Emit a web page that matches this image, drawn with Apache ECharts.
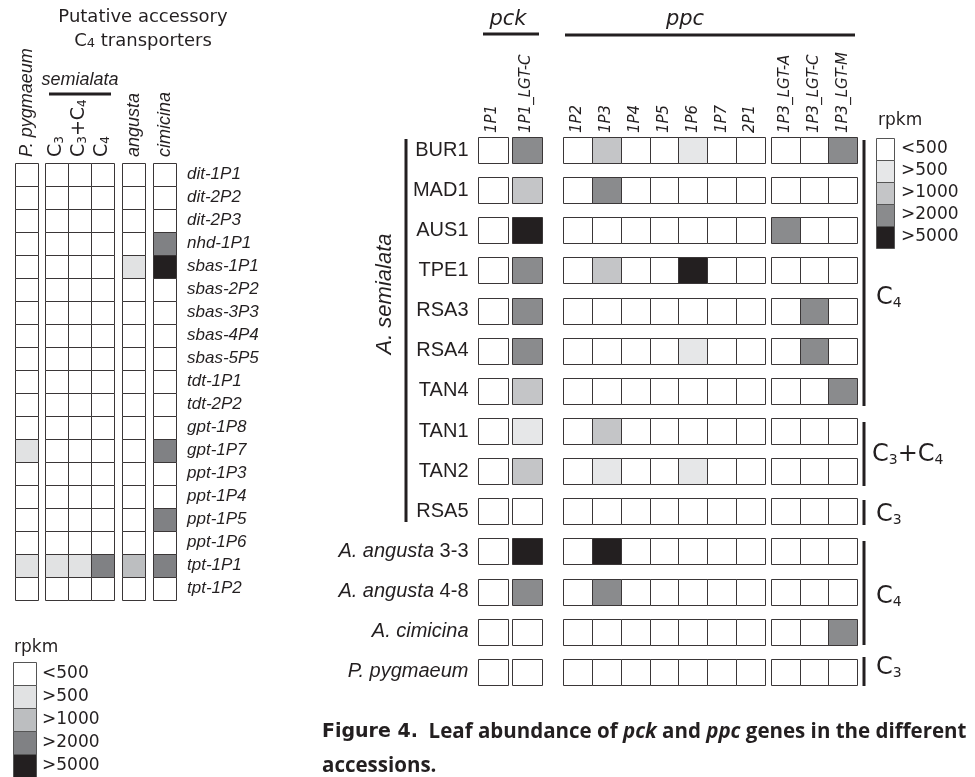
<!DOCTYPE html>
<html>
<head>
<meta charset="utf-8">
<script src="https://cdn.jsdelivr.net/npm/echarts@6/dist/echarts.min.js"></script>
<style>
  html, body { margin: 0; padding: 0; background: #fff; }
  #chart { width: 975px; height: 777px; }
</style>
</head>
<body>
<div id="chart"></div>
<script>
// levels: 0 <500, 1 >500, 2 >1000, 3 >2000, 4 >5000 (rpkm)
const leftGenes = ['dit-1P1', 'dit-2P2', 'dit-2P3', 'nhd-1P1', 'sbas-1P1', 'sbas-2P2', 'sbas-3P3',
  'sbas-4P4', 'sbas-5P5', 'tdt-1P1', 'tdt-2P2', 'gpt-1P8', 'gpt-1P7', 'ppt-1P3', 'ppt-1P4',
  'ppt-1P5', 'ppt-1P6', 'tpt-1P1', 'tpt-1P2'];
const leftCols = ['P. pygmaeum', 'C3', 'C3+C4', 'C4', 'angusta', 'cimicina'];
const leftValues = [
  [0, 0, 0, 0, 0, 0],
  [0, 0, 0, 0, 0, 0],
  [0, 0, 0, 0, 0, 0],
  [0, 0, 0, 0, 0, 3],
  [0, 0, 0, 0, 1, 4],
  [0, 0, 0, 0, 0, 0],
  [0, 0, 0, 0, 0, 0],
  [0, 0, 0, 0, 0, 0],
  [0, 0, 0, 0, 0, 0],
  [0, 0, 0, 0, 0, 0],
  [0, 0, 0, 0, 0, 0],
  [0, 0, 0, 0, 0, 0],
  [1, 0, 0, 0, 0, 3],
  [0, 0, 0, 0, 0, 0],
  [0, 0, 0, 0, 0, 0],
  [0, 0, 0, 0, 0, 3],
  [0, 0, 0, 0, 0, 0],
  [1, 1, 1, 3, 2, 3],
  [0, 0, 0, 0, 0, 0]
];

const rightRows = ['BUR1', 'MAD1', 'AUS1', 'TPE1', 'RSA3', 'RSA4', 'TAN4', 'TAN1', 'TAN2', 'RSA5',
  'A. angusta 3-3', 'A. angusta 4-8', 'A. cimicina', 'P. pygmaeum'];
const rightCols = ['1P1', '1P1_LGT-C', '1P2', '1P3', '1P4', '1P5', '1P6', '1P7', '2P1',
  '1P3_LGT-A', '1P3_LGT-C', '1P3_LGT-M'];
const rightValues = [
  [0, 3, 0, 2, 0, 0, 1, 0, 0, 0, 0, 3],
  [0, 2, 0, 3, 0, 0, 0, 0, 0, 0, 0, 0],
  [0, 4, 0, 0, 0, 0, 0, 0, 0, 3, 0, 0],
  [0, 3, 0, 2, 0, 0, 4, 0, 0, 0, 0, 0],
  [0, 3, 0, 0, 0, 0, 0, 0, 0, 0, 3, 0],
  [0, 3, 0, 0, 0, 0, 1, 0, 0, 0, 3, 0],
  [0, 2, 0, 0, 0, 0, 0, 0, 0, 0, 0, 3],
  [0, 1, 0, 2, 0, 0, 0, 0, 0, 0, 0, 0],
  [0, 2, 0, 1, 0, 0, 1, 0, 0, 0, 0, 0],
  [0, 0, 0, 0, 0, 0, 0, 0, 0, 0, 0, 0],
  [0, 4, 0, 4, 0, 0, 0, 0, 0, 0, 0, 0],
  [0, 3, 0, 3, 0, 0, 0, 0, 0, 0, 0, 0],
  [0, 0, 0, 0, 0, 0, 0, 0, 0, 0, 0, 3],
  [0, 0, 0, 0, 0, 0, 0, 0, 0, 0, 0, 0]
];

const legendLabels = ['<500', '>500', '>1000', '>2000', '>5000'];
const leftColors = ['#ffffff', '#e1e2e3', '#bcbec0', '#808184', '#231f20'];
const rightColors = ['#ffffff', '#e6e7e8', '#c4c5c7', '#8a8b8d', '#231f20'];

const ink = '#231f20';
const chart = echarts.init(document.getElementById('chart'));

// C3 / C4 written with a lowered small digit
const subText = s => s.replace(/C(\d)/g, 'C{s|$1}');
const subRich = (size, subSize, drop) => ({
  s: { fontSize: subSize, lineHeight: drop, verticalAlign: 'bottom', fontFamily: 'DejaVu Sans', fill: ink, color: ink }
});

const leftGroups = [
  { cols: [0], left: 15, width: 23, italic: true },
  { cols: [1, 2, 3], left: 45, width: 69, italic: false },
  { cols: [4], left: 122, width: 23, italic: true },
  { cols: [5], left: 153, width: 23, italic: true, genes: true }
];
const rightGroups = [
  { cols: [0, 1], left: 475.5, width: 68, gap: 4, rows: true },
  { cols: [2, 3, 4, 5, 6, 7, 8], left: 563, width: 202, gap: 0 },
  { cols: [9, 10, 11], left: 771, width: 86, gap: 0 }
];

const grid = [], xAxis = [], yAxis = [], series = [];

function cellRenderer(colors, gap, hFrac) {
  return function (params, api) {
    const c = api.coord([api.value(0), api.value(1)]);
    const s = api.size([1, 1]);
    const w = s[0] - gap, h = s[1] * hFrac;
    return {
      type: 'rect',
      shape: { x: Math.round(c[0] - w / 2) + 0.5, y: Math.round(c[1] - h / 2) + 0.5, width: Math.round(w), height: Math.round(h) },
      style: { fill: colors[api.value(2)], stroke: '#3a3637', lineWidth: 1 }
    };
  };
}

leftGroups.forEach(g => {
  const i = grid.length;
  grid.push({ left: g.left, width: g.width, top: 163, height: 437 });
  xAxis.push({
    type: 'category', gridIndex: i, position: 'top', data: g.cols.map(c => leftCols[c]),
    axisLine: { show: false }, axisTick: { show: false }, splitLine: { show: false },
    axisLabel: {
      interval: 0, rotate: -90, margin: 6, color: ink, fontSize: g.italic ? 18 : 19,
      fontStyle: g.italic ? 'italic' : 'normal',
      fontFamily: g.italic ? 'Liberation Sans' : 'DejaVu Sans',
      formatter: v => subText(v),
      rich: { s: { fontSize: 12, lineHeight: 4, verticalAlign: 'bottom', fontFamily: 'DejaVu Sans', color: ink } }
    }
  });
  yAxis.push({
    type: 'category', gridIndex: i, inverse: true, data: leftGenes,
    position: 'right',
    axisLine: { show: false }, axisTick: { show: false }, splitLine: { show: false },
    axisLabel: {
      show: !!g.genes, interval: 0, margin: 11, color: ink, fontSize: 17,
      fontStyle: 'italic', fontFamily: 'Liberation Sans'
    }
  });
  const data = [];
  leftValues.forEach((row, r) => g.cols.forEach((c, k) => data.push([k, r, row[c]])));
  series.push({
    type: 'custom', xAxisIndex: i, yAxisIndex: i, silent: true,
    renderItem: cellRenderer(leftColors, 0, 1), data
  });
});

rightGroups.forEach(g => {
  const i = grid.length;
  grid.push({ left: g.left, width: g.width, top: 130, height: 562 });
  xAxis.push({
    type: 'category', gridIndex: i, position: 'top', data: g.cols.map(c => rightCols[c]),
    axisLine: { show: false }, axisTick: { show: false }, splitLine: { show: false },
    axisLabel: {
      interval: 0, rotate: -90, margin: -3, color: ink, fontSize: 15,
      fontStyle: 'italic', fontFamily: 'DejaVu Sans'
    }
  });
  yAxis.push({
    type: 'category', gridIndex: i, inverse: true, data: rightRows,
    axisLine: { show: false }, axisTick: { show: false }, splitLine: { show: false },
    axisLabel: {
      show: !!g.rows, interval: 0, margin: 7, color: ink, fontSize: 20,
      fontFamily: 'Liberation Sans',
      formatter: v => {
        const m = v.match(/^([A-Z]\. [a-z]+)(.*)$/);
        return m ? '{i|' + m[1] + '}' + m[2] : v;
      },
      rich: { i: { fontStyle: 'italic', fontSize: 20, fontFamily: 'Liberation Sans', color: ink } }
    }
  });
  const data = [];
  rightValues.forEach((row, r) => g.cols.forEach((c, k) => data.push([k, r, row[c]])));
  series.push({
    type: 'custom', xAxisIndex: i, yAxisIndex: i, silent: true,
    renderItem: cellRenderer(rightColors, g.gap, 0.65), data
  });
});

function txt(x, y, text, style, extra) {
  return Object.assign({
    type: 'text', x, y, silent: true,
    style: Object.assign({
      text, fill: ink, fontFamily: 'DejaVu Sans', fontSize: 18,
      textAlign: 'left', textVerticalAlign: 'middle'
    }, style)
  }, extra || {});
}
function bar(x1, y1, x2, y2, w) {
  return { type: 'line', silent: true, shape: { x1, y1, x2, y2 }, style: { stroke: ink, lineWidth: w || 3 } };
}
const bigSub = { fontSize: 24, lineHeight: 24, rich: { s: { fontSize: 14, lineHeight: 4, verticalAlign: 'bottom', fontFamily: 'DejaVu Sans', fill: ink } } };

const graphic = [
  txt(143, 17, 'Putative accessory', { textAlign: 'center' }),
  txt(143, 41, 'C{s|4} transporters', { textAlign: 'center', lineHeight: 18,
    rich: { s: { fontSize: 13, lineHeight: 8, verticalAlign: 'bottom', fontFamily: 'DejaVu Sans', fill: ink } } }),
  txt(80, 80, 'semialata', { textAlign: 'center', fontStyle: 'italic', fontFamily: 'Liberation Sans' }),
  bar(49, 94, 111, 94),
  txt(14, 648, 'rpkm', { fontSize: 17 }),
  txt(508, 20, 'pck', { textAlign: 'center', fontStyle: 'italic', fontSize: 21 }),
  bar(483, 34, 539, 34),
  txt(685, 20, 'ppc', { textAlign: 'center', fontStyle: 'italic', fontSize: 21 }),
  bar(565, 35, 855, 35),
  txt(878, 121, 'rpkm', { fontSize: 17 }),
  txt(385, 294, 'A. semialata', { textAlign: 'center', fontStyle: 'italic', fontFamily: 'Liberation Sans', fontSize: 22 }, { rotation: Math.PI / 2 }),
  bar(406, 139, 406, 522),
  bar(864, 140, 864, 406), txt(876, 298, subText('C4'), bigSub),
  bar(864, 422, 864, 486), txt(872, 455, subText('C3+C4'), bigSub),
  bar(864, 500, 864, 525), txt(876, 515, subText('C3'), bigSub),
  bar(864, 541, 864, 645), txt(876, 597, subText('C4'), bigSub),
  bar(864, 657, 864, 686), txt(876, 668, subText('C3'), bigSub),
  txt(322, 715, '{f|Figure 4.}  Leaf abundance of {i|pck} and {i|ppc} genes in the different\naccessions.', {
    textVerticalAlign: 'top', fontFamily: 'Open Sans', fontWeight: 'bold', fontSize: 20.5, lineHeight: 34,
    rich: {
      f: { fontFamily: 'DejaVu Sans', fontWeight: 'bold', fontSize: 19, fill: ink, lineHeight: 34 },
      i: { fontFamily: 'Open Sans', fontWeight: 'bold', fontStyle: 'italic', fontSize: 20.5, fill: ink, lineHeight: 34 }
    }
  })
];

legendLabels.forEach((lab, k) => {
  graphic.push({ type: 'rect', silent: true, shape: { x: 13.5, y: 662.5 + k * 23, width: 23, height: 23 },
    style: { fill: leftColors[k], stroke: '#555', lineWidth: 1 } });
  graphic.push(txt(42, 674 + k * 23, lab, { fontSize: 17 }));
  graphic.push({ type: 'rect', silent: true, shape: { x: 876.5, y: 138.5 + k * 22, width: 18, height: 22 },
    style: { fill: rightColors[k], stroke: '#555', lineWidth: 1 } });
  graphic.push(txt(901, 149 + k * 22, lab, { fontSize: 17 }));
});

chart.setOption({
  animation: false,
  backgroundColor: '#fff',
  grid, xAxis, yAxis, series, graphic
});
</script>
</body>
</html>
